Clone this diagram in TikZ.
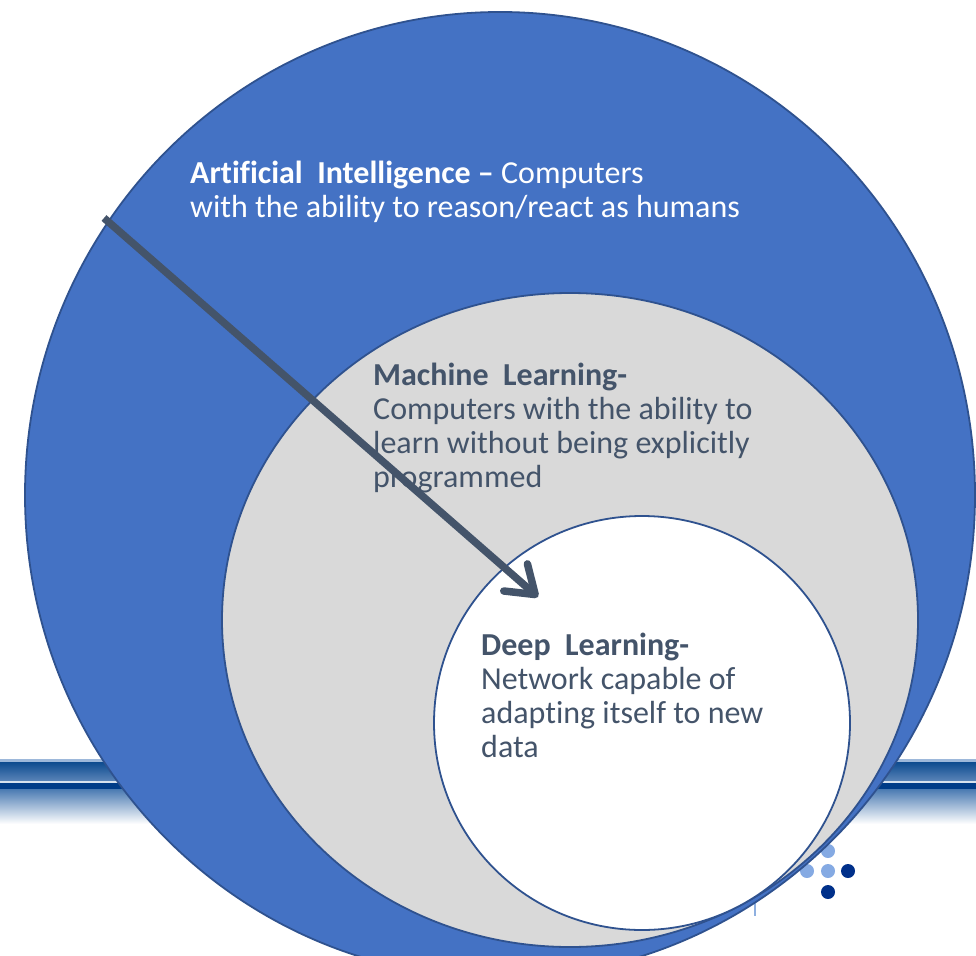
\documentclass[tikz,border=0pt]{standalone}
\usepackage{fontspec}
\setmainfont{Carlito}[Ligatures=NoCommon]
\usetikzlibrary{shapes.geometric,arrows.meta}
\definecolor{aiblue}{HTML}{4472C4}
\definecolor{edgeblue}{HTML}{2F528F}
\definecolor{mlgray}{HTML}{D9D9D9}
\definecolor{txt}{HTML}{44546A}
\definecolor{dotlight}{HTML}{85AAE3}
\definecolor{dotdark}{HTML}{00308A}
\definecolor{barA}{HTML}{0D4B8F}
\definecolor{barB}{HTML}{5A84B8}
\definecolor{barC}{HTML}{003C88}
\definecolor{barD}{HTML}{4A7AB2}
\definecolor{barTop}{HTML}{9DB8DA}
\definecolor{barGap}{HTML}{D6E1EE}
\definecolor{tick}{HTML}{8FB0E0}
\tikzset{
  setbox/.style={ellipse, draw=edgeblue, line width=1.8pt, inner sep=0pt},
  lbl/.style={anchor=base west, inner sep=0pt, align=left, font=\fontsize{32}{34}\selectfont},
  dot/.style={circle, inner sep=0pt, minimum size=14pt},
  arrowline/.style={draw=txt, line width=7.5pt, -{Straight Barb[length=26pt,width=36pt,round]}}
}
\begin{document}
\begin{tikzpicture}[x=1pt,y=-1pt]
\useasboundingbox (0,0) rectangle (976,955);
% background bars
\fill[barTop] (0,759) rectangle (976,762);
\shade[top color=barA, bottom color=barB] (0,762) rectangle (976,781);
\fill[barGap] (0,781) rectangle (976,783);
\fill[barC] (0,783) rectangle (976,789);
\shade[top color=barD, bottom color=white] (0,789) rectangle (976,824);
\draw[tick, line width=1.2pt] (755,890) -- (755,916);
% dots
\node[dot, fill=dotlight] (d1) at (828,851) {};
\node[dot, fill=dotlight] (d2) at (807,871) {};
\node[dot, fill=dotlight] (d3) at (828,871) {};
\node[dot, fill=dotdark] (d4) at (848,871) {};
\node[dot, fill=dotdark] (d5) at (828,892) {};
% sets
\node[setbox, fill=aiblue, minimum width=950pt, minimum height=966pt] (ai) at (500,495) {};
\node[setbox, fill=mlgray, minimum width=696pt, minimum height=654pt] (ml) at (570,620) {};
\node[setbox, fill=white, minimum width=416pt, minimum height=414pt] (dl) at (642,723) {};
% texts (anchored at the baseline of the last line)
\node[lbl, text=white] (ait) at (190,217) {\textbf{Artificial\ \ Intelligence –} Computers\\with the ability to reason/react as humans};
\node[lbl, text=txt] (mlt) at (373,487) {\textbf{Machine\ \ Learning-}\\Computers with the ability to\\learn without being explicitly\\programmed};
\node[lbl, text=txt] (dlt) at (481,757) {\textbf{Deep\ \ Learning-}\\Network capable of\\adapting itself to new\\data};
% arrow
\coordinate (a0) at (104,218);
\coordinate (a1) at (538,597);
\draw[arrowline] (a0) -- (a1);
\end{tikzpicture}
\end{document}
